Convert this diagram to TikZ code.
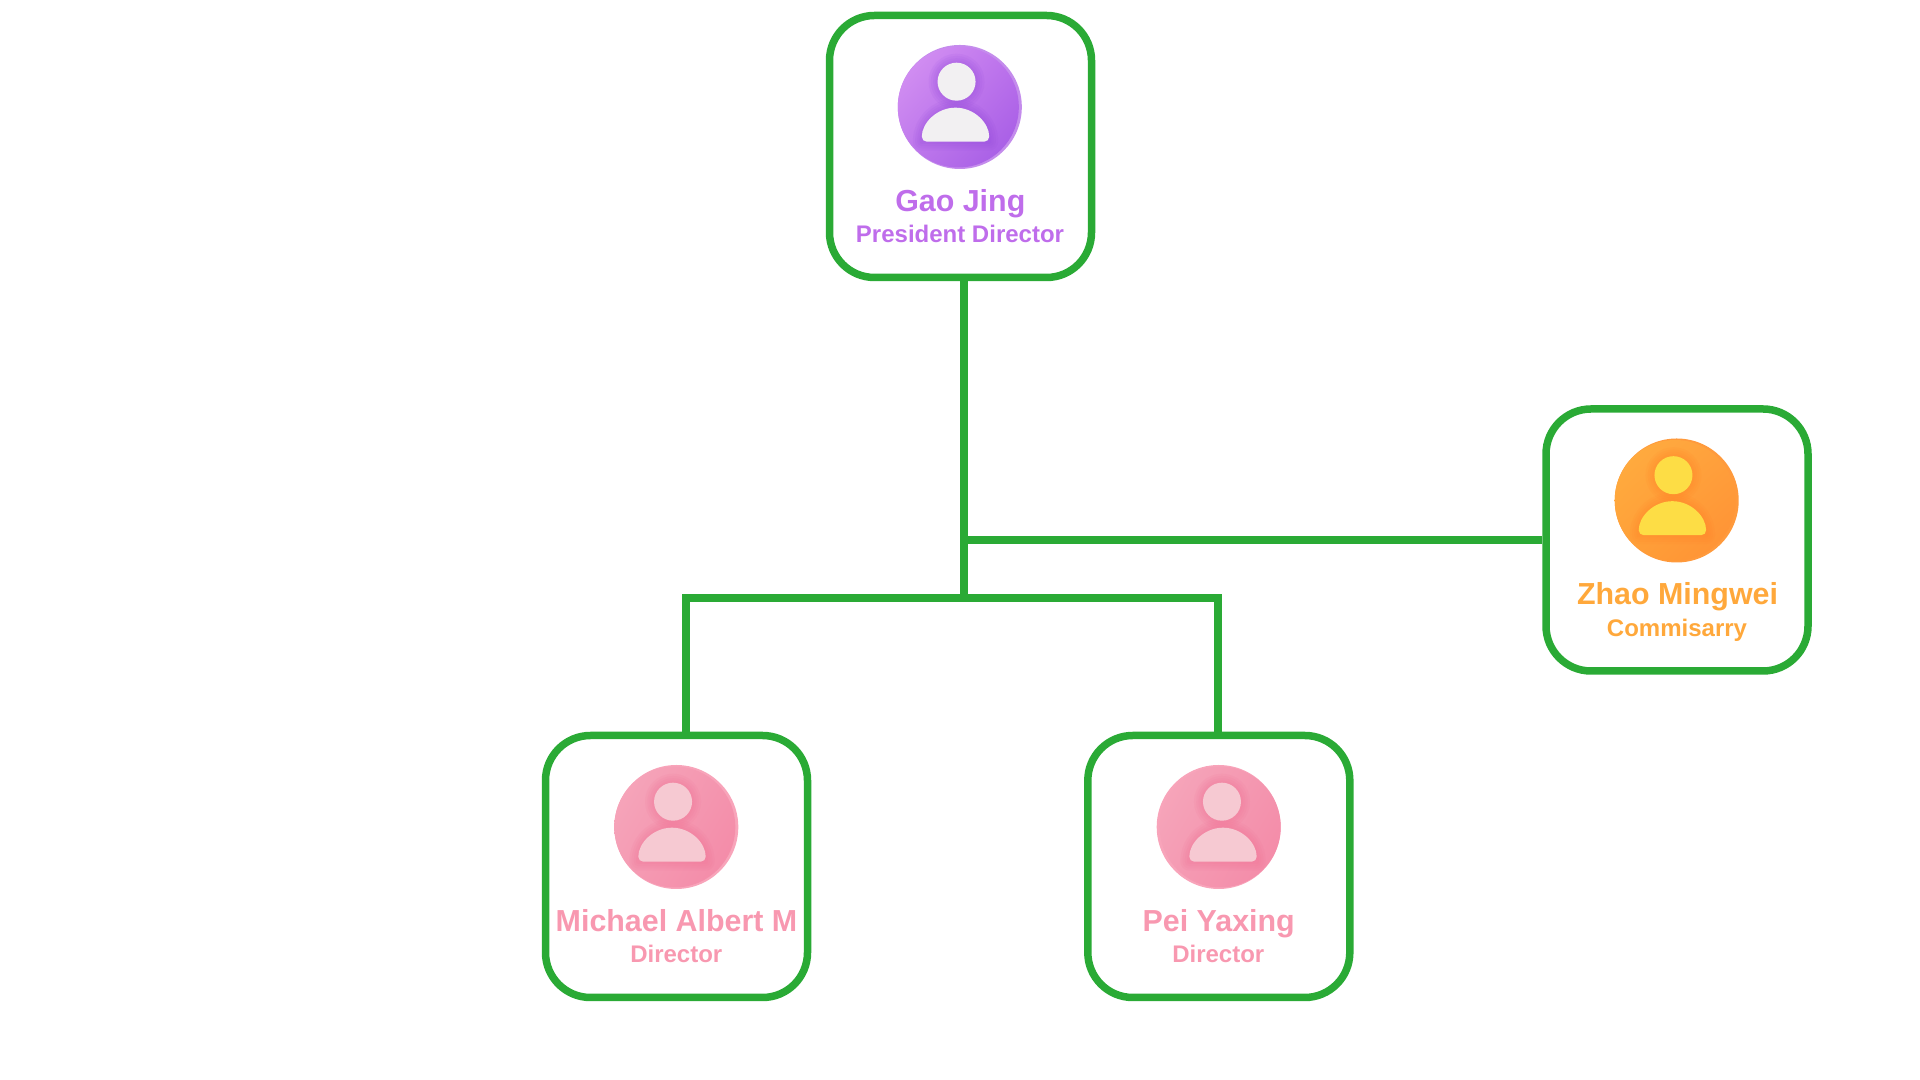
\documentclass[tikz,border=0pt]{standalone}
\usepackage{fontspec}
\setmainfont{Liberation Sans}
\usetikzlibrary{calc,shadings}
\definecolor{linkgreen}{HTML}{2AAA35}
\definecolor{namepurple}{HTML}{BF6DEB}
\definecolor{nameorange}{HTML}{FFA83B}
\definecolor{namepink}{HTML}{F898B0}
% avatar colours: rim, four corners, figure, glow
\definecolor{purplerim}{HTML}{C48CEC}
\definecolor{purpleul}{HTML}{D896F3}
\definecolor{purpleur}{HTML}{BC72EC}
\definecolor{purplell}{HTML}{BE78EC}
\definecolor{purplelr}{HTML}{A258E4}
\definecolor{purplefig}{HTML}{F2F0F2}
\definecolor{purpleglow}{HTML}{8A3FD8}
\definecolor{orangerim}{HTML}{FF9A3C}
\definecolor{orangeul}{HTML}{FFAE40}
\definecolor{orangeur}{HTML}{FFA03C}
\definecolor{orangell}{HTML}{FFA038}
\definecolor{orangelr}{HTML}{FF9034}
\definecolor{orangefig}{HTML}{FDDD45}
\definecolor{orangeglow}{HTML}{FF7A20}
\definecolor{pinkrim}{HTML}{F8A4BA}
\definecolor{pinkul}{HTML}{F6A8BC}
\definecolor{pinkur}{HTML}{F494AE}
\definecolor{pinkll}{HTML}{F59CB4}
\definecolor{pinklr}{HTML}{F488A6}
\definecolor{pinkfig}{HTML}{F6C9D2}
\definecolor{pinkglow}{HTML}{F2658C}
\tikzset{
	personbox/.style={draw=linkgreen, line width=0.15cm, rounded corners=0.9cm, minimum size=5.24cm, inner sep=0pt},
	link/.style={draw=linkgreen, line width=0.155cm},
	bigname/.style={anchor=base, inner sep=0pt, font=\fontsize{17.3}{20}\selectfont\bfseries},
	smallrole/.style={anchor=base, inner sep=0pt, font=\fontsize{13.66}{16}\selectfont\bfseries},
}
\def\avatar(#1)[#2]#3{
	\begin{scope}[shift={(#1)}, xscale=#2]
		\fill[#3rim] (0, 0) circle (1.24);
		\shade[shading=bilinear interpolation, upper left=#3ul, upper right=#3ur, lower left=#3ll, lower right=#3lr] (-0.03, 0) circle (1.21);
		\foreach \w in {0.36, 0.27, 0.18, 0.09} {
			\draw[#3glow, opacity=0.08, line width=\w cm, line join=round] (-0.76, -0.694) arc (180:0:0.674 and 0.68) -- cycle;
			\draw[#3glow, opacity=0.08, line width=\w cm] (-0.065, 0.506) circle (0.38);
		}
		\fill[#3fig] (-0.065, 0.506) circle (0.38);
		\fill[#3fig, rounded corners=0.1cm] (-0.76, -0.694) arc (180:0:0.674 and 0.68) -- cycle;
	\end{scope}
}
\begin{document}
\begin{tikzpicture}
	\useasboundingbox (0, 0) rectangle (38.4, 21.6);
	
	\node[personbox] (gao) at (19.21, 18.67) {};
	\node[personbox] (zhao) at (33.54, 10.8) {};
	\node[personbox] (michael) at (13.53, 4.27) {};
	\node[personbox] (pei) at (24.376, 4.27) {};
	
	\coordinate (joint) at (19.28, 9.64);
	\coordinate (dropl) at (13.72, 9.64);
	\coordinate (dropr) at (24.356, 9.64);
	
	\draw[link] (gao.south -| joint) -- (joint);
	\draw[link] (zhao.west) -- (zhao.west -| joint);
	\draw[link] (michael.north -| dropl) -- (dropl) -- (dropr) -- (pei.north -| dropr);
	
	\coordinate (gaoface) at (19.196, 19.46);
	\coordinate (zhaoface) at (33.534, 11.59);
	\coordinate (michaelface) at (13.526, 5.06);
	\coordinate (peiface) at (24.374, 5.06);
	
	\avatar(gaoface)[1]{purple}
	\avatar(zhaoface)[1]{orange}
	\avatar(michaelface)[1]{pink}
	\avatar(peiface)[-1]{pink}
	
	\node[bigname, color=namepurple] (gaoname) at (19.206, 17.366) {Gao Jing};
	\node[smallrole, color=namepurple] (gaorole) at (19.2, 16.75) {President Director};
	
	\node[bigname, color=nameorange] (zhaoname) at (33.55, 9.5) {Zhao Mingwei};
	\node[smallrole, color=nameorange] (zhaorole) at (33.54, 8.875) {Commisarry};
	
	\node[bigname, color=namepink] (michaelname) at (13.53, 2.966) {Michael Albert M};
	\node[smallrole, color=namepink] (michaelrole) at (13.526, 2.35) {Director};
	
	\node[bigname, color=namepink] (peiname) at (24.374, 2.966) {Pei Yaxing};
	\node[smallrole, color=namepink] (peirole) at (24.366, 2.35) {Director};
\end{tikzpicture}
\end{document}
